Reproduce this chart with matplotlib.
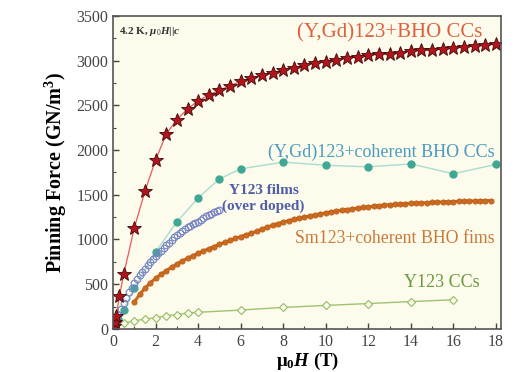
import numpy as np
import matplotlib
matplotlib.use("Agg")
import matplotlib.pyplot as plt
from matplotlib.ticker import MultipleLocator

plt.rcParams['font.family'] = ['Liberation Serif', 'DejaVu Serif']
plt.rcParams['mathtext.fontset'] = 'custom'
plt.rcParams['mathtext.rm'] = 'Liberation Serif'
plt.rcParams['mathtext.it'] = 'Liberation Serif:italic:bold'
plt.rcParams['mathtext.bf'] = 'Liberation Serif:bold'

# (Y,Gd)123+BHO CCs  (stars)
ygd_bho_x = [0.05, 0.1, 0.15, 0.3, 0.5, 1.0, 1.5, 2.0, 2.5, 3.0, 3.5, 4.0, 4.5, 5.0,
             5.5, 6.0, 6.5, 7.0, 7.5, 8.0, 8.5, 9.0, 9.5, 10.0, 10.5, 11.0, 11.5,
             12.0, 12.5, 13.0, 13.5, 14.0, 14.5, 15.0, 15.5, 16.0, 16.5, 17.0,
             17.5, 18.0]
ygd_bho_y = [30, 80, 140, 370, 610, 1130, 1540, 1890, 2180, 2340, 2460, 2550, 2615,
             2670, 2720, 2770, 2805, 2840, 2865, 2895, 2920, 2950, 2970, 2990, 3010,
             3030, 3045, 3060, 3070, 3080, 3090, 3105, 3115, 3125, 3135, 3145, 3155,
             3165, 3175, 3185]

# (Y,Gd)123+coherent BHO CCs (filled circles)
ygd_coh_x = [0.1, 0.25, 0.5, 1, 2, 3, 4, 5, 6, 8, 10, 12, 14, 16, 18]
ygd_coh_y = [40, 110, 212, 458, 861, 1197, 1465, 1678, 1790, 1865, 1830, 1812,
             1845, 1735, 1840]

# Y123 films (over doped) (open circles, dense)
y123f_x = [0.125, 0.25, 0.375, 0.5, 0.625, 0.75, 0.875, 1.0, 1.125, 1.25, 1.375,
           1.5, 1.625, 1.75, 1.875, 2.0, 2.125, 2.25, 2.375, 2.5, 2.625, 2.75,
           2.875, 3.0, 3.125, 3.25, 3.375, 3.5, 3.625, 3.75, 3.875, 4.0, 4.125,
           4.25, 4.375, 4.5, 4.625, 4.75, 4.875, 5.0]
y123f_y = [75, 150, 225, 290, 350, 410, 460, 510, 555, 600, 635, 670, 710, 750,
           783, 815, 845, 875, 905, 935, 965, 995, 1023, 1050, 1073, 1095, 1115,
           1135, 1153, 1170, 1185, 1200, 1220, 1240, 1258, 1275, 1290, 1305,
           1318, 1330]

# Sm123+coherent BHO films (filled small circles, dense)
sm_x = [1.0, 1.25, 1.5, 1.75, 2.0, 2.25, 2.5, 2.75, 3.0, 3.25, 3.5, 3.75, 4.0,
        4.25, 4.5, 4.75, 5.0, 5.25, 5.5, 5.75, 6.0, 6.25, 6.5, 6.75, 7.0, 7.25,
        7.5, 7.75, 8.0, 8.25, 8.5, 8.75, 9.0, 9.25, 9.5, 9.75, 10.0, 10.25, 10.5,
        10.75, 11.0, 11.25, 11.5, 11.75, 12.0, 12.25, 12.5, 12.75, 13.0, 13.25,
        13.5, 13.75, 14.0, 14.25, 14.5, 14.75, 15.0, 15.25, 15.5, 15.75, 16.0,
        16.25, 16.5, 16.75, 17.0, 17.25, 17.5, 17.75]
sm_y = [300, 385, 455, 515, 565, 610, 650, 690, 725, 760, 790, 818, 845, 872, 897,
        921, 945, 968, 990, 1011, 1032, 1052, 1072, 1091, 1115, 1138, 1160, 1178,
        1195, 1210, 1225, 1238, 1250, 1263, 1275, 1286, 1297, 1308, 1318, 1327,
        1335, 1343, 1350, 1358, 1365, 1371, 1377, 1383, 1388, 1392, 1396, 1400,
        1403, 1406, 1409, 1412, 1414, 1417, 1419, 1421, 1423, 1425, 1427, 1429,
        1431, 1433, 1434, 1435]

# Y123 CCs (open diamonds)
y123cc_x = [0.1, 0.5, 1.0, 1.5, 2.0, 2.5, 3.0, 3.5, 4.0, 6, 8, 10, 12, 14, 16]
y123cc_y = [25, 65, 90, 110, 125, 145, 160, 175, 185, 210, 240, 262, 283, 305, 325]

fig = plt.figure(figsize=(5.14, 3.72), dpi=100, facecolor='white')
ax = fig.add_axes([0.22, 0.116, 0.755, 0.841], facecolor='#fdfbeb')

ax.plot(y123cc_x, y123cc_y, '-', color='#9cc56e', lw=1.0, marker='D', ms=4,
        mfc='#fdfbeb', mec='#93bb66', mew=0.8)
ax.plot(sm_x, sm_y, '-', color='#cc6a22', lw=2.2, marker='o', ms=3.8,
        mfc='#cc6a1e', mec='#b85a18', mew=0.5)
ax.plot(ygd_coh_x, ygd_coh_y, '-', color='#a8dcd2', lw=1.0, marker='o', ms=5,
        mfc='#3fa894', mec='#3fa894')
ax.plot(y123f_x, y123f_y, 'None', marker='o', ms=4.8, mfc='none',
        mec='#7482c4', mew=0.8)
ax.plot(ygd_bho_x, ygd_bho_y, '-', color='#e85a5a', lw=0.9, marker='*', ms=10,
        mfc='#b3141c', mec='#3a0a0a', mew=0.6)

ax.set_xlim(0, 18.25)
ax.set_ylim(0, 3500)
ax.xaxis.set_major_locator(MultipleLocator(2))
ax.xaxis.set_minor_locator(MultipleLocator(1))
ax.yaxis.set_major_locator(MultipleLocator(500))
ax.yaxis.set_minor_locator(MultipleLocator(250))
ax.tick_params(which='both', direction='in', top=False, right=False,
               colors='#444444', labelcolor='#444444', labelsize=11.5)
ax.tick_params(which='major', length=4, width=1)
ax.tick_params(which='minor', length=2.5, width=0.8)
for s in ax.spines.values():
    s.set_color('#555555')
    s.set_linewidth(1.2)

ax.set_ylabel('Pinning Force (GN/m$^\\mathbf{3}$)', fontsize=14.5,
              fontweight='bold', labelpad=5)
ax.set_xlabel('$\\mathbf{\\mu_0}$$\\mathit{H}$ (T)', fontsize=13.5,
              fontweight='bold', labelpad=1)

ax.text(0.3, 3330, '4.2 K, $\\mu_0$$\\mathit{H}$||$\\mathit{c}$', fontsize=8,
        fontweight='bold', color='#333333', va='center')
ax.text(17.35, 3310, '(Y,Gd)123+BHO CCs', fontsize=15, color='#e0603e',
        ha='right', va='center')
ax.text(17.95, 1980, '(Y,Gd)123+coherent BHO CCs', fontsize=13,
        color='#4a9cc0', ha='right', va='center')
ax.text(5.45, 1545, 'Y123 films', fontsize=11, color='#4f5ea8',
        fontweight='bold', ha='left', va='center')
ax.text(5.1, 1375, '(over doped)', fontsize=11, color='#4f5ea8',
        fontweight='bold', ha='left', va='center')
ax.text(17.95, 1015, 'Sm123+coherent BHO fims', fontsize=12.8,
        color='#c87a3a', ha='right', va='center')
ax.text(17.25, 515, 'Y123 CCs', fontsize=13, color='#6a9a40',
        ha='right', va='center')

fig.savefig('out.png', dpi=100)
